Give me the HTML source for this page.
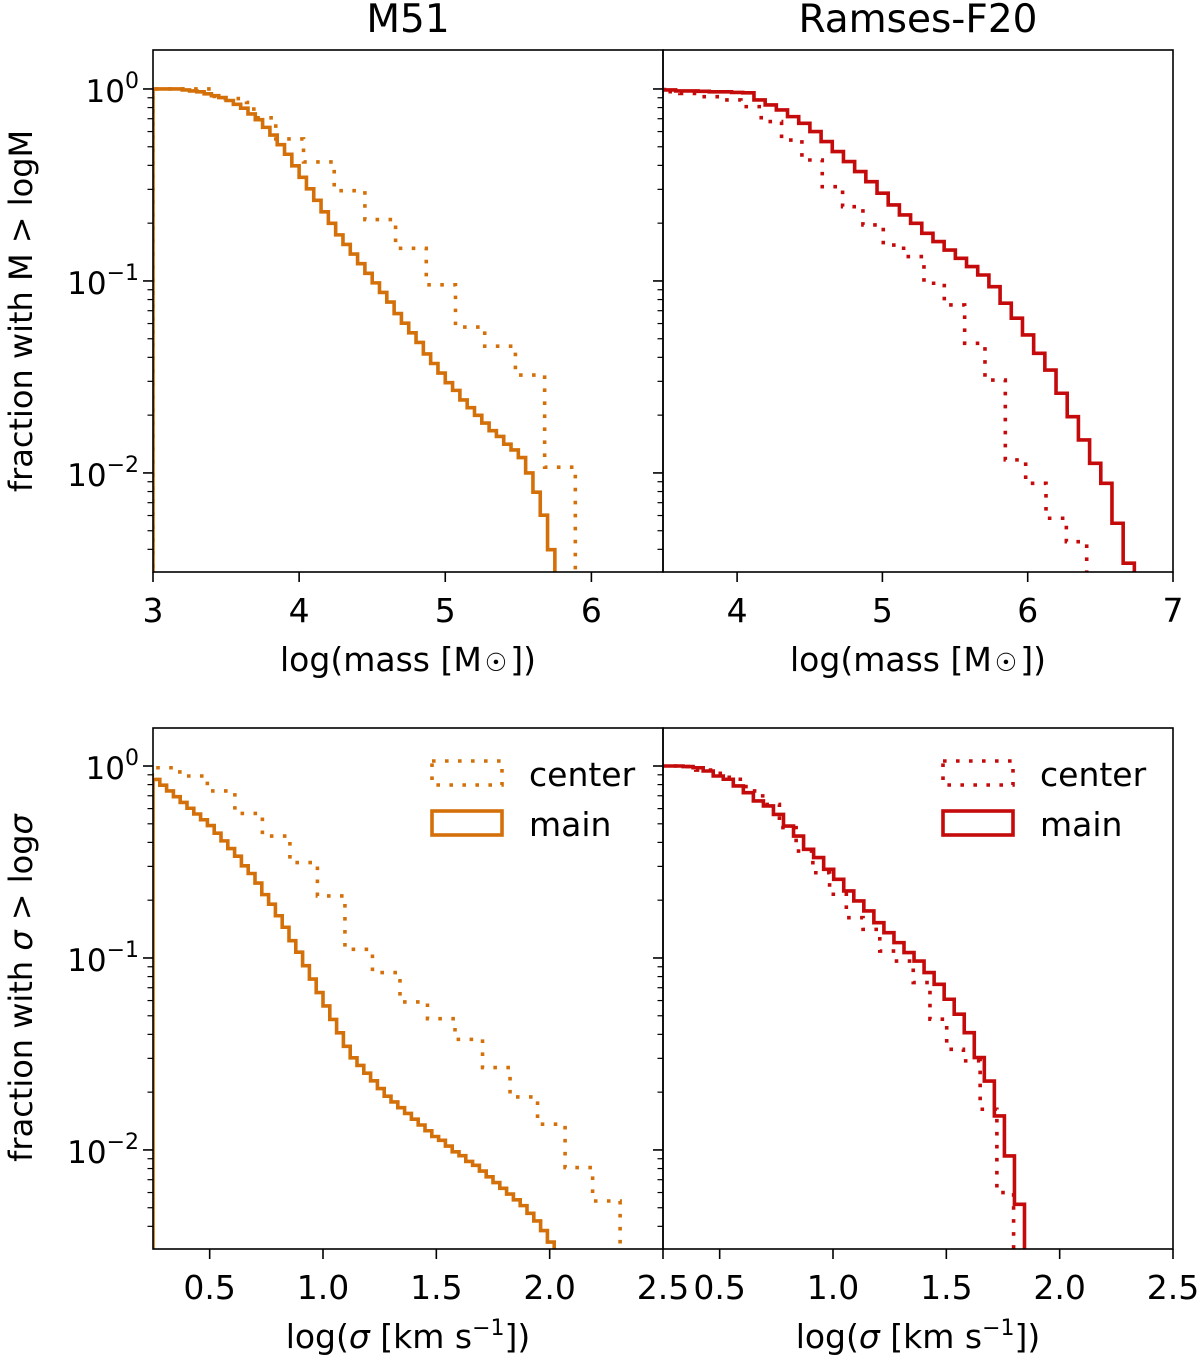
<!DOCTYPE html>
<html><head><meta charset="utf-8"><style>
html,body{margin:0;padding:0;background:#fff;overflow:hidden;width:1200px;height:1362px;}
svg{display:block;font-family:"DejaVu Sans","Liberation Sans",sans-serif;}
</style></head>
<body>
<svg id="fig" width="1200" height="1362" viewBox="0 0 1200 1362" xmlns="http://www.w3.org/2000/svg">
<defs>
<clipPath id="c-tl"><rect x="153" y="50" width="510" height="522"/></clipPath>
<clipPath id="c-tr"><rect x="663" y="50" width="510" height="522"/></clipPath>
<clipPath id="c-bl"><rect x="153" y="728" width="510" height="521"/></clipPath>
<clipPath id="c-br"><rect x="663" y="728" width="510" height="521"/></clipPath>
</defs>
<text x="408" y="32" text-anchor="middle" font-size="39">M51</text>
<text x="918" y="32" text-anchor="middle" font-size="39">Ramses-F20</text>
<text transform="translate(32,311) rotate(-90)" text-anchor="middle" font-size="32">fraction with M &gt; logM</text>
<text transform="translate(32,988) rotate(-90)" text-anchor="middle" font-size="32">fraction with <tspan font-style="italic">σ</tspan> &gt; log<tspan font-style="italic">σ</tspan></text>
<text x="408" y="671" text-anchor="middle" font-size="33">log(mass [M<tspan font-size="25" dx="3">☉</tspan><tspan dx="3">])</tspan></text>
<text x="918" y="671" text-anchor="middle" font-size="33">log(mass [M<tspan font-size="25" dx="3">☉</tspan><tspan dx="3">])</tspan></text>
<text x="408" y="1348" text-anchor="middle" font-size="33">log(<tspan font-style="italic">σ</tspan> [km s<tspan font-size="22" dy="-13">−1</tspan><tspan dy="13">])</tspan></text>
<text x="918" y="1348" text-anchor="middle" font-size="33">log(<tspan font-style="italic">σ</tspan> [km s<tspan font-size="22" dy="-13">−1</tspan><tspan dy="13">])</tspan></text>
</svg>
<script>
// ---- data (log10 of cumulative fraction) ----
const tlMainStart = 3.0, tlMainWidth = 0.05;
const tlMainLog = [0,0,0,0,-0.005,-0.01,-0.015,-0.025,-0.035,-0.045,-0.06,-0.08,-0.10,-0.13,-0.16,-0.20,-0.24,-0.29,-0.34,-0.40,-0.46,-0.52,-0.58,-0.64,-0.70,-0.76,-0.81,-0.86,-0.91,-0.96,-1.01,-1.06,-1.11,-1.17,-1.22,-1.27,-1.32,-1.38,-1.43,-1.48,-1.53,-1.57,-1.62,-1.66,-1.70,-1.74,-1.78,-1.81,-1.85,-1.88,-1.92,-2.00,-2.10,-2.22,-2.40,-2.60];
const tlCenterEdges = [3.0,3.42,3.64,3.69,3.84,4.03,4.24,4.45,4.66,4.87,5.07,5.27,5.48,5.68,5.89];
const tlCenterLog = [0,-0.05,-0.07,-0.15,-0.26,-0.38,-0.53,-0.68,-0.83,-1.02,-1.24,-1.34,-1.49,-1.97];
const trMainStart = 3.423, trMainWidth = 0.077;
const trMainLog = [-0.003,-0.005,-0.01,-0.01,-0.012,-0.015,-0.015,-0.018,-0.02,-0.057,-0.083,-0.109,-0.144,-0.179,-0.222,-0.274,-0.326,-0.378,-0.43,-0.483,-0.543,-0.604,-0.656,-0.70,-0.752,-0.795,-0.839,-0.882,-0.925,-0.969,-1.03,-1.116,-1.194,-1.281,-1.377,-1.464,-1.585,-1.707,-1.828,-1.95,-2.054,-2.262,-2.47];
const trCenterStart = 3.326, trCenterWidth = 0.14;
const trCenterLog = [-0.01,-0.014,-0.023,-0.04,-0.057,-0.092,-0.17,-0.266,-0.37,-0.509,-0.613,-0.708,-0.813,-0.873,-1.012,-1.125,-1.325,-1.516,-1.932,-2.054,-2.236,-2.358];
const blMainStart = 0.25, blMainWidth = 0.03;
const blMainLog = [-0.07,-0.10,-0.13,-0.16,-0.19,-0.22,-0.25,-0.28,-0.31,-0.35,-0.39,-0.43,-0.47,-0.52,-0.56,-0.61,-0.67,-0.72,-0.78,-0.84,-0.91,-0.97,-1.04,-1.11,-1.18,-1.25,-1.32,-1.39,-1.46,-1.52,-1.56,-1.60,-1.64,-1.68,-1.72,-1.75,-1.78,-1.81,-1.84,-1.87,-1.90,-1.93,-1.95,-1.98,-2.01,-2.03,-2.06,-2.08,-2.11,-2.14,-2.17,-2.20,-2.23,-2.26,-2.29,-2.33,-2.37,-2.42,-2.48];
const blCenterStart = 0.247, blCenterWidth = 0.1214;
const blCenterLog = [-0.009,-0.052,-0.13,-0.247,-0.365,-0.503,-0.677,-0.955,-1.076,-1.229,-1.316,-1.424,-1.571,-1.724,-1.866,-2.092,-2.266];
const brMainStart = 0.2057, brMainWidth = 0.0443;
const brMainLog = [0,0,0,-0.003,-0.009,-0.026,-0.052,-0.069,-0.104,-0.139,-0.182,-0.208,-0.252,-0.313,-0.365,-0.434,-0.477,-0.538,-0.59,-0.651,-0.703,-0.755,-0.816,-0.868,-0.92,-0.972,-1.016,-1.076,-1.137,-1.215,-1.293,-1.389,-1.519,-1.641,-1.823,-2.031,-2.283];
const brCenterStart = 0.1732, brCenterWidth = 0.0738;
const brCenterLog = [0,0,-0.003,-0.021,-0.038,-0.069,-0.13,-0.2,-0.321,-0.443,-0.556,-0.668,-0.79,-0.851,-0.964,-1.016,-1.128,-1.319,-1.476,-1.536,-1.788,-2.222];
const tlXTicks = [3,4,5,6];
const trXTicks = [4,5,6,7];
const sigmaXTicks = [0.5,1.0,1.5,2.0,2.5];
const yMajorTicks = [0,-1,-2];
const yTickLabels = ["0","−1","−2"];

const ORANGE = "#d4700a", RED = "#c40a0a";
const NS = "http://www.w3.org/2000/svg";
const svg = document.getElementById('fig');
function mk(tag, attrs, parent){const e=document.createElementNS(NS,tag);for(const k in attrs)e.setAttribute(k,attrs[k]);(parent||svg).appendChild(e);return e;}

function makeAxes(id, x0, x1, y0, y1, xmin, xmax, ymin, ymax){
  return {id,x0,x1,y0,y1,
    X:v=>x0+(v-xmin)/(xmax-xmin)*(x1-x0),
    Y:lg=>y1-(lg-ymin)/(ymax-ymin)*(y1-y0), ymin, ymax};
}
const axes = {
  tl: makeAxes('tl',153,663,50,572,3.0,6.49,-2.516,0.203),
  tr: makeAxes('tr',663,1173,50,572,3.49,7.0,-2.516,0.203),
  bl: makeAxes('bl',153,663,728,1249,0.25,2.5,-2.516,0.198),
  br: makeAxes('br',663,1173,728,1249,0.25,2.5,-2.516,0.198)
};

function edgesFromUniform(start,width,n){const e=[];for(let i=0;i<=n;i++)e.push(start+i*width);return e;}
function stepPath(ax, edges, logs){
  let d = `M${ax.X(edges[0]).toFixed(2)},${ax.Y(-5).toFixed(2)}`;
  for(let i=0;i<logs.length;i++){
    d += ` L${ax.X(edges[i]).toFixed(2)},${ax.Y(logs[i]).toFixed(2)} L${ax.X(edges[i+1]).toFixed(2)},${ax.Y(logs[i]).toFixed(2)}`;
  }
  d += ` L${ax.X(edges[logs.length]).toFixed(2)},${ax.Y(-5).toFixed(2)}`;
  return d;
}
function drawSeries(ax, edges, logs, color, dotted, name){
  const p = mk('path',{d:stepPath(ax,edges,logs),fill:'none',stroke:color,'stroke-width':3.6,'stroke-dasharray':dotted?'3.6 9.4':'none','stroke-linejoin':'miter','clip-path':`url(#c-${ax.id})`});
  
  
}

drawSeries(axes.tl, tlCenterEdges, tlCenterLog, ORANGE, true, 'm51-mass-center-line');
drawSeries(axes.tl, edgesFromUniform(tlMainStart,tlMainWidth,tlMainLog.length), tlMainLog, ORANGE, false, 'm51-mass-main-line');
drawSeries(axes.tr, edgesFromUniform(trCenterStart,trCenterWidth,trCenterLog.length), trCenterLog, RED, true, 'ramses-mass-center-line');
drawSeries(axes.tr, edgesFromUniform(trMainStart,trMainWidth,trMainLog.length), trMainLog, RED, false, 'ramses-mass-main-line');
drawSeries(axes.bl, edgesFromUniform(blCenterStart,blCenterWidth,blCenterLog.length), blCenterLog, ORANGE, true, 'm51-sigma-center-line');
drawSeries(axes.bl, edgesFromUniform(blMainStart,blMainWidth,blMainLog.length), blMainLog, ORANGE, false, 'm51-sigma-main-line');
drawSeries(axes.br, edgesFromUniform(brCenterStart,brCenterWidth,brCenterLog.length), brCenterLog, RED, true, 'ramses-sigma-center-line');
drawSeries(axes.br, edgesFromUniform(brMainStart,brMainWidth,brMainLog.length), brMainLog, RED, false, 'ramses-sigma-main-line');

function frameAndTicks(ax, xticks, xfmt, ylabels){
  const f = mk('rect',{x:ax.x0,y:ax.y0,width:ax.x1-ax.x0,height:ax.y1-ax.y0,fill:'none',stroke:'#000','stroke-width':1.6});
  
  
  xticks.forEach(v=>{
    const x = ax.X(v);
    const t = mk('line',{x1:x,x2:x,y1:ax.y1,y2:ax.y1+10,stroke:'#000','stroke-width':1.6});
    
    
    const l = mk('text',{x:x,y:ax.y1+50,'text-anchor':'middle','font-size':33});
    l.textContent = xfmt(v);
    
    
  });
  for(let k=-3;k<=0;k++){
    for(let m=1;m<=9;m++){
      const lg = k+Math.log10(m);
      if(lg<ax.ymin||lg>ax.ymax) continue;
      const y = ax.Y(lg), len = m===1?10:5.5;
      const t = mk('line',{x1:ax.x0-len,x2:ax.x0,y1:y,y2:y,stroke:'#000','stroke-width':m===1?1.6:1.2});
      
      
    }
  }
  if(ylabels){
    yMajorTicks.forEach((lg,i)=>{
      const y = ax.Y(lg);
      const l = mk('text',{x:ax.x0-14,y:y+13,'text-anchor':'end','font-size':31});
      
      
      const a = mk('tspan',{},l); a.textContent='10';
      const b = mk('tspan',{dy:-14,'font-size':22},l); b.textContent=yTickLabels[i];
    });
  }
}
const intFmt = v=>String(v), decFmt = v=>v.toFixed(1);
frameAndTicks(axes.tl, tlXTicks, intFmt, true);
frameAndTicks(axes.tr, trXTicks, intFmt, false);
frameAndTicks(axes.bl, sigmaXTicks, decFmt, true);
frameAndTicks(axes.br, sigmaXTicks, decFmt, false);

function legend(px, color, prefix){
  const c = mk('rect',{x:px,y:761,width:70,height:24,fill:'none',stroke:color,'stroke-width':3.6,'stroke-dasharray':'3.6 9.4'});
  
  
  const ct = mk('text',{x:px+97,y:786,'font-size':33}); ct.textContent='center';
  
  
  const m = mk('rect',{x:px,y:811,width:70,height:24,fill:'none',stroke:color,'stroke-width':3.6});
  
  
  const mt = mk('text',{x:px+97,y:836,'font-size':33}); mt.textContent='main';
  
  
}
legend(432, ORANGE, 'm51');
legend(943, RED, 'ramses');
</script>
</body></html>
